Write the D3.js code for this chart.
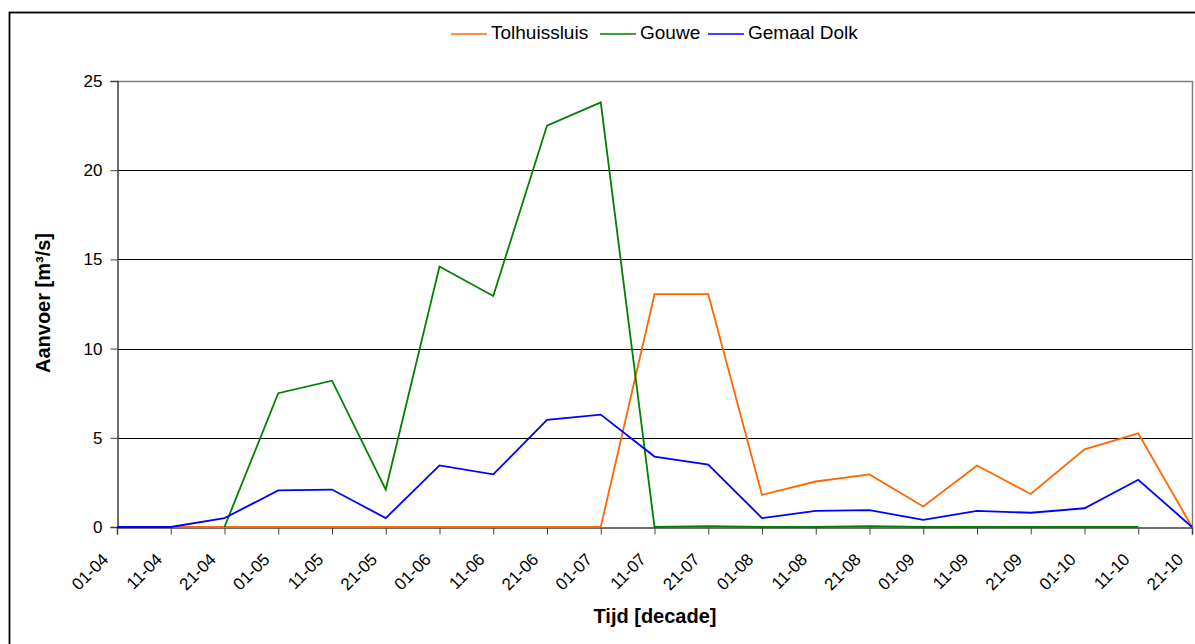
<!DOCTYPE html>
<html>
<head>
<meta charset="utf-8">
<script src="https://cdn.jsdelivr.net/npm/d3@7"></script>
<style>
  html, body { margin: 0; padding: 0; background: #fff; }
  svg { display: block; font-family: "Liberation Sans", Arial, sans-serif; }
</style>
</head>
<body>
<svg id="chart" width="1195" height="644"></svg>
<script>
// Decade labels (day-month)
const decades = ["01-04","11-04","21-04","01-05","11-05","21-05","01-06","11-06","21-06","01-07",
                 "11-07","21-07","01-08","11-08","21-08","01-09","11-09","21-09","01-10","11-10","21-10"];

// Supply per decade [m³/s]; null = no value
const tolhuissluis = [null,0,0,0,0,0,0,0,0,0,13.05,13.05,1.8,2.55,2.95,1.15,3.45,1.85,4.35,5.25,0];
const gouwe        = [null,null,0,7.5,8.2,2.1,14.6,12.95,22.5,23.8,0,0.05,0,0,0.05,0,0,0,0,0,null];
const gemaalDolk   = [0,0,0.5,2.05,2.1,0.5,3.45,2.95,6.0,6.3,3.95,3.5,0.5,0.9,0.95,0.4,0.9,0.8,1.05,2.65,0];

const yTicks = [0,5,10,15,20,25];

const series = [
  { name: "Tolhuissluis", values: tolhuissluis, color: "#ff6600" },
  { name: "Gouwe",        values: gouwe,        color: "#008000" },
  { name: "Gemaal Dolk",  values: gemaalDolk,   color: "#0000ff" }
];

const FONT = "Liberation Sans, Arial, sans-serif";
const svg = d3.select("#chart");
const plot = { left: 117, right: 1192, top: 81, bottom: 527 };

// outer frame
svg.append("rect").attr("x", 9.5).attr("y", 12.5).attr("width", 1200).attr("height", 700)
  .attr("fill", "none").attr("stroke", "#000").attr("stroke-width", 1.8);

const x = d3.scalePoint().domain(decades).range([plot.left, plot.right]);
const y = d3.scaleLinear().domain([0, 25]).range([plot.bottom, plot.top]);

// gridlines
svg.append("g").selectAll("line").data(yTicks.filter(t => t > 0 && t < 25)).join("line")
  .attr("x1", plot.left).attr("x2", plot.right)
  .attr("y1", d => Math.round(y(d)) + 0.5).attr("y2", d => Math.round(y(d)) + 0.5)
  .attr("stroke", "#000").attr("stroke-width", 1);

// plot border (top and right)
svg.append("path")
  .attr("d", `M${plot.left},${plot.top + 0.5}H${plot.right + 0.5}V${plot.bottom}`)
  .attr("fill", "none").attr("stroke", "#808080").attr("stroke-width", 1.5);

// y axis
const yAxis = d3.axisLeft(y).tickValues(yTicks).tickSize(7).tickPadding(8);
const gy = svg.append("g").attr("transform", `translate(${plot.left + 0.5},0)`).call(yAxis);
gy.select(".domain").attr("stroke", "#404040").attr("stroke-width", 1.5);
gy.selectAll(".tick line").attr("stroke", "#404040");
gy.selectAll(".tick text").attr("font-size", 17).attr("fill", "#000").attr("font-family", FONT);

// x axis
const xAxis = d3.axisBottom(x).tickSize(7).tickPadding(4);
const gx = svg.append("g").attr("transform", `translate(0,${plot.bottom + 0.5})`).call(xAxis);
gx.select(".domain").attr("stroke", "#404040").attr("stroke-width", 1.5);
gx.selectAll(".tick line").attr("stroke", "#404040");
gx.selectAll(".tick text")
  .attr("font-size", 17).attr("fill", "#000").attr("font-family", FONT)
  .attr("text-anchor", "end")
  .attr("dy", null).attr("x", 0).attr("y", 0)
  .attr("transform", "translate(-8,33) rotate(-45)");

// series lines
const line = d3.line()
  .defined(d => d != null)
  .x((d, i) => x(decades[i]))
  .y(d => y(d));

svg.append("g").selectAll("path").data(series).join("path")
  .attr("d", s => line(s.values))
  .attr("fill", "none")
  .attr("stroke", s => s.color)
  .attr("stroke-width", 1.8)
  .attr("stroke-linejoin", "miter");

// axis titles
svg.append("text").attr("x", 655).attr("y", 623)
  .attr("text-anchor", "middle").attr("font-size", 20).attr("font-weight", "bold")
  .text("Tijd [decade]");
svg.append("text").attr("transform", "translate(50,303) rotate(-90)")
  .attr("text-anchor", "middle").attr("font-size", 20).attr("font-weight", "bold")
  .text("Aanvoer [m³/s]");

// legend
const legendX = [451, 600, 708];
const lg = svg.append("g").selectAll("g").data(series).join("g")
  .attr("transform", (d, i) => `translate(${legendX[i]},34)`);
lg.append("line").attr("x1", 0).attr("x2", 36).attr("y1", 0).attr("y2", 0)
  .attr("stroke", d => d.color).attr("stroke-width", 1.5);
lg.append("text").attr("x", 40).attr("y", 4.5).attr("font-size", 19).attr("fill", "#000")
  .text(d => d.name);
</script>
</body>
</html>
